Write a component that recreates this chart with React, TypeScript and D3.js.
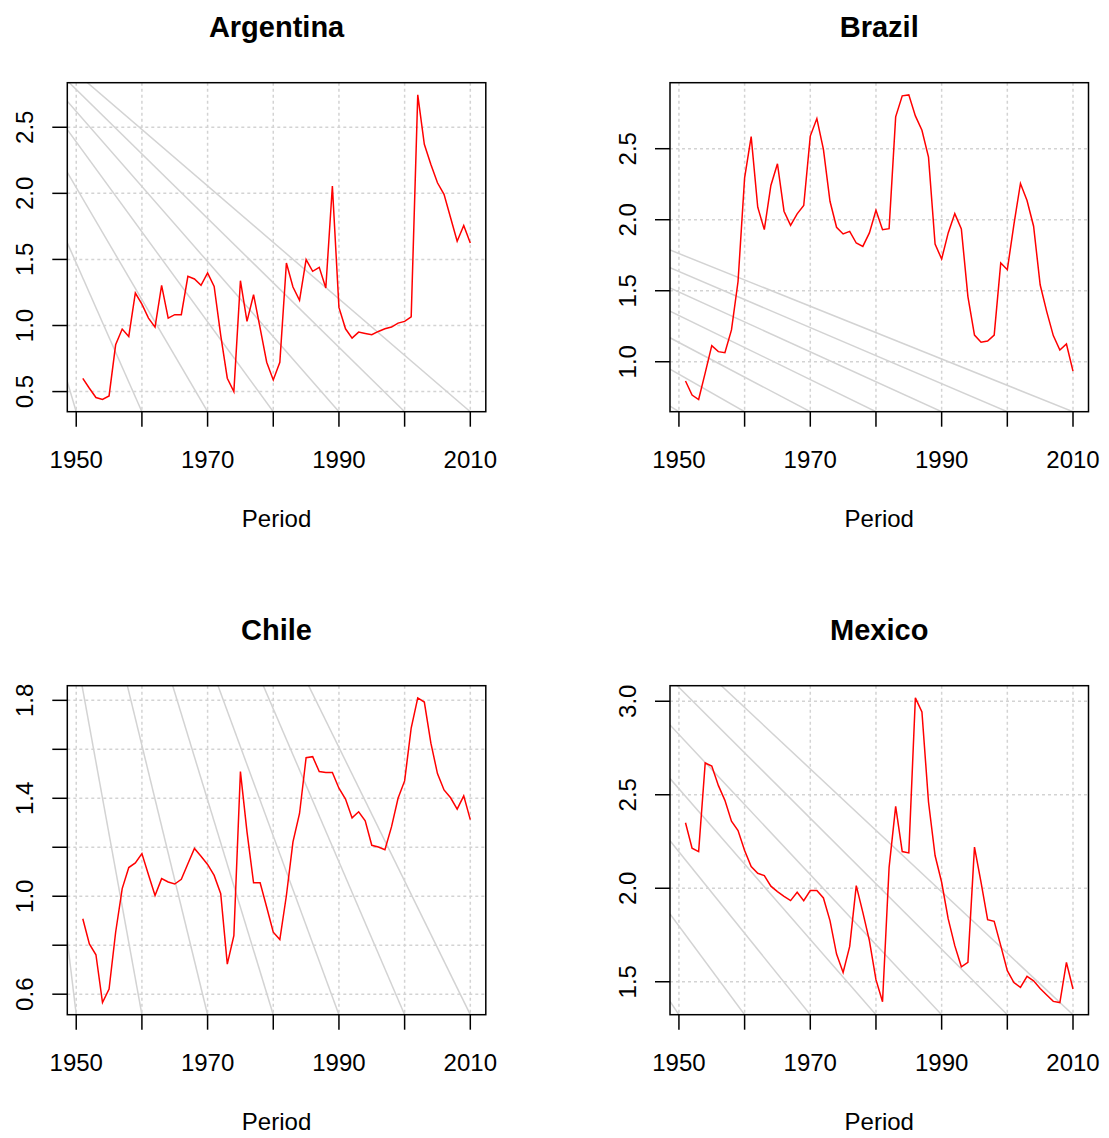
import React from 'react';
import * as d3 from 'd3';

// annual series, 1951-2010
const years = d3.range(1951, 2011);

const argentina = [
  0.6, 0.525, 0.455, 0.44, 0.467, 0.854, 0.973, 0.917, 1.246, 1.162,
  1.056, 0.988, 1.304, 1.056, 1.082, 1.082, 1.372, 1.352, 1.304, 1.398,
  1.296, 0.925, 0.601, 0.5, 1.339, 1.031, 1.233, 0.98, 0.722, 0.588,
  0.722, 1.473, 1.291, 1.19, 1.499, 1.41, 1.44, 1.284, 2.055, 1.137,
  0.975, 0.905, 0.95, 0.94, 0.93, 0.955, 0.975, 0.988, 1.018, 1.031,
  1.066, 2.745, 2.371, 2.219, 2.08, 1.992, 1.815, 1.638, 1.757, 1.625,
];

const brazil = [
  0.864, 0.765, 0.734, 0.922, 1.113, 1.071, 1.064, 1.224, 1.565, 2.295,
  2.585, 2.088, 1.93, 2.241, 2.394, 2.06, 1.961, 2.041, 2.1, 2.589,
  2.712, 2.495, 2.13, 1.947, 1.9, 1.918, 1.836, 1.812, 1.907, 2.067,
  1.93, 1.937, 2.724, 2.872, 2.879, 2.731, 2.63, 2.441, 1.829, 1.723,
  1.907, 2.043, 1.935, 1.459, 1.188, 1.137, 1.146, 1.188, 1.695, 1.648,
  1.966, 2.255, 2.135, 1.954, 1.542, 1.353, 1.184, 1.083, 1.125, 0.934,
];

const chile = [
  0.908, 0.805, 0.761, 0.566, 0.621, 0.853, 1.031, 1.117, 1.136, 1.174,
  1.088, 1.003, 1.072, 1.058, 1.05, 1.069, 1.133, 1.195, 1.163, 1.13,
  1.085, 1.01, 0.723, 0.839, 1.509, 1.263, 1.055, 1.055, 0.955, 0.853,
  0.823, 1.003, 1.222, 1.338, 1.566, 1.57, 1.509, 1.505, 1.505, 1.441,
  1.397, 1.32, 1.345, 1.308, 1.208, 1.201, 1.19, 1.283, 1.4, 1.471,
  1.687, 1.81, 1.793, 1.625, 1.501, 1.434, 1.402, 1.356, 1.41, 1.313,
];

const mexico = [
  2.35, 2.214, 2.196, 2.67, 2.654, 2.55, 2.47, 2.359, 2.309, 2.202,
  2.116, 2.08, 2.068, 2.011, 1.982, 1.957, 1.934, 1.979, 1.934, 1.988,
  1.988, 1.948, 1.827, 1.648, 1.55, 1.689, 2.014, 1.871, 1.72, 1.511,
  1.393, 2.112, 2.4375, 2.196, 2.189, 3.018, 2.943, 2.461, 2.175, 2.032,
  1.836, 1.693, 1.58, 1.604, 2.22, 2.032, 1.832, 1.823, 1.693, 1.559,
  1.496, 1.47, 1.529, 1.505, 1.464, 1.429, 1.395, 1.389, 1.604, 1.461,
];

const xTicks = [1950, 1960, 1970, 1980, 1990, 2000, 2010];
const xTickLabels = ['1950', '', '1970', '', '1990', '', '2010'];

const yTicksArgentina = [0.5, 1.0, 1.5, 2.0, 2.5];
const yLabelsArgentina = ['0.5', '1.0', '1.5', '2.0', '2.5'];
const yTicksBrazil = [1.0, 1.5, 2.0, 2.5];
const yLabelsBrazil = ['1.0', '1.5', '2.0', '2.5'];
const yTicksChile = [0.6, 0.8, 1.0, 1.2, 1.4, 1.6, 1.8];
const yLabelsChile = ['0.6', '', '1.0', '', '1.4', '', '1.8'];
const yTicksMexico = [1.5, 2.0, 2.5, 3.0];
const yLabelsMexico = ['1.5', '2.0', '2.5', '3.0'];

// grey guide lines: each runs from a decade on the lower edge towards a focus point (year, value)
const focusArgentina = [1929.4, 3.79];
const focusBrazil = [1842.3, 3.76];
const focusChile = [1930.6, 4.85];
const focusMexico = [1847, 6.68];

const W = 418.5;
const H = 329;
const FONT = '"Liberation Sans", Arial, Helvetica, sans-serif';

function Panel({ id, name, values, yTicks, yLabels, focus, left, top }) {
  const ext = d3.extent(years);
  const xPad = (ext[1] - ext[0]) * 0.04;
  const x = d3.scaleLinear().domain([ext[0] - xPad, ext[1] + xPad]).range([0, W]);
  const [lo, hi] = d3.extent(values);
  const yPad = (hi - lo) * 0.04;
  const y = d3.scaleLinear().domain([lo - yPad, hi + yPad]).range([H, 0]);

  const line = d3
    .line()
    .x((d, i) => x(years[i]))
    .y((d) => y(d));

  // guide lines through (decade, bottom) and the focus point, extended to the left edge
  const yb = y.domain()[0];
  const xl = x.domain()[0];
  const guides = xTicks.map((d) => {
    const yl = yb + ((focus[1] - yb) * (xl - d)) / (focus[0] - d);
    return d3.line()([
      [x(d), y(yb)],
      [x(xl), y(yl)],
    ]);
  });

  return (
    <g transform={`translate(${left},${top})`} fontFamily={FONT}>
      <defs>
        <clipPath id={`clip-${id}`}>
          <rect x={0} y={0} width={W} height={H} />
        </clipPath>
      </defs>
      <text x={W / 2} y={-46} textAnchor="middle" fontSize={29} fontWeight="bold">
        {name}
      </text>
      <g clipPath={`url(#clip-${id})`}>
        {xTicks.map((t) => (
          <line key={'gx' + t} x1={x(t)} x2={x(t)} y1={0} y2={H}
            stroke="#d3d3d3" strokeWidth={1.5} strokeDasharray="3,3" />
        ))}
        {yTicks.map((t) => (
          <line key={'gy' + t} x1={0} x2={W} y1={y(t)} y2={y(t)}
            stroke="#d3d3d3" strokeWidth={1.5} strokeDasharray="3,3" />
        ))}
        {guides.map((g, i) => (
          <path key={'gl' + i} d={g} fill="none" stroke="#d3d3d3" strokeWidth={1.5} />
        ))}
        <path d={line(values)} fill="none" stroke="#ff0000" strokeWidth={1.5} />
      </g>
      <rect x={0} y={0} width={W} height={H} fill="none" stroke="#000" strokeWidth={1.5} />
      {xTicks.map((t, i) => (
        <g key={'xt' + t}>
          <line x1={x(t)} x2={x(t)} y1={H} y2={H + 15} stroke="#000" strokeWidth={1.5} />
          {xTickLabels[i] && (
            <text x={x(t)} y={H + 56} textAnchor="middle" fontSize={24}>
              {xTickLabels[i]}
            </text>
          )}
        </g>
      ))}
      {yTicks.map((t, i) => (
        <g key={'yt' + t}>
          <line x1={-15} x2={0} y1={y(t)} y2={y(t)} stroke="#000" strokeWidth={1.5} />
          {yLabels[i] && (
            <text transform={`translate(-34,${y(t)}) rotate(-90)`} textAnchor="middle" fontSize={24}>
              {yLabels[i]}
            </text>
          )}
        </g>
      ))}
      <text x={W / 2} y={H + 115} textAnchor="middle" fontSize={24}>
        Period
      </text>
    </g>
  );
}

export default function App() {
  return (
    <svg width={1109} height={1138} style={{ position: 'absolute', left: 0, top: 0, background: '#fff' }}>
      <rect width={1109} height={1138} fill="#fff" />
      <Panel id="ar" name="Argentina" values={argentina} yTicks={yTicksArgentina}
        yLabels={yLabelsArgentina} focus={focusArgentina} left={67.3} top={82.7} />
      <Panel id="br" name="Brazil" values={brazil} yTicks={yTicksBrazil}
        yLabels={yLabelsBrazil} focus={focusBrazil} left={670} top={82.7} />
      <Panel id="cl" name="Chile" values={chile} yTicks={yTicksChile}
        yLabels={yLabelsChile} focus={focusChile} left={67.3} top={685.7} />
      <Panel id="mx" name="Mexico" values={mexico} yTicks={yTicksMexico}
        yLabels={yLabelsMexico} focus={focusMexico} left={670} top={685.7} />
    </svg>
  );
}
